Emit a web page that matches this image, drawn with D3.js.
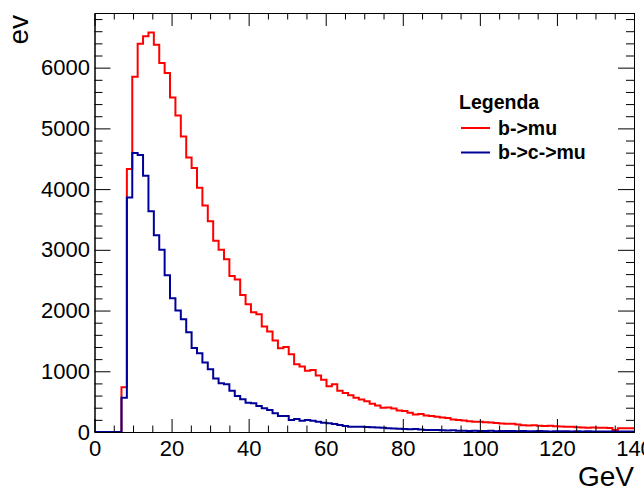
<!DOCTYPE html>
<html>
<head>
<meta charset="utf-8">
<script src="https://cdn.jsdelivr.net/npm/d3@7"></script>
<style>
  body { margin: 0; background: #fff; }
  text { font-family: "Liberation Sans", Arial, Helvetica, sans-serif; }
</style>
</head>
<body>
<div id="plot"></div>
<script>
// histogram binning (0 - 140 GeV, 100 bins)
var nbins = 100, xmin = 0, xmax = 140

// bin contents
var b_mu = [0, 0, 0, 0, 0, 737, 4330, 5850, 6395, 6516,
            6577, 6379, 6077, 5912, 5510, 5214, 4868, 4520, 4346, 4022,
            3730, 3470, 3150, 3000, 2846, 2571, 2510, 2258, 2104, 1973,
            1940, 1736, 1654, 1505, 1379, 1401, 1281, 1116, 1077, 1008,
            1022, 930, 862, 752, 788, 678, 643, 605, 565, 535,
            505, 465, 435, 400, 405, 385, 355, 345, 315, 290,
            295, 270, 265, 250, 240, 230, 205, 198, 190, 175,
            170, 168, 160, 155, 150, 140, 135, 135, 125, 110,
            108, 112, 104, 100, 102, 96, 90, 88, 86, 78,
            74, 72, 76, 70, 68, 66, 35, 60, 60, 62]

var b_c_mu = [0, 0, 0, 0, 0, 566, 3862, 4593, 4560, 4220,
              3637, 3242, 3000, 2583, 2204, 2000, 1857, 1643, 1385, 1297,
              1143, 1033, 879, 803, 786, 681, 593, 539, 483, 473,
              429, 390, 363, 308, 264, 264, 198, 214, 187, 198,
              187, 170, 154, 143, 132, 115, 99, 88, 88, 85,
              82, 77, 75, 72, 60, 58, 55, 50, 45, 50,
              40, 35, 33, 33, 30, 25, 28, 22, 20, 18,
              22, 15, 18, 20, 14, 16, 18, 15, 12, 16,
              14, 12, 15, 13, 10, 12, 14, 11, 10, 12,
              9, 11, 10, 8, 10, 9, 8, 10, 7, 9]

var series_names = ["b->mu", "b->c->mu"]
var series_colors = ["#ff0000", "#000099"]
var x_ticks = [0, 20, 40, 60, 80, 100, 120, 140]
var y_ticks = [0, 1000, 2000, 3000, 4000, 5000, 6000]

// set the dimensions and margins of the graph
var margin = {top: 13, right: 10, bottom: 56, left: 94.5},
    width = 644 - margin.left - margin.right,
    height = 488 - margin.top - margin.bottom

var svg = d3.select("#plot")
    .append("svg")
    .attr("width", 644)
    .attr("height", 488)
    .append("g")
    .attr("transform", "translate(" + margin.left + "," + margin.top + ")")

var scale_x = d3.scaleLinear().domain([xmin, xmax]).range([0, width])
var scale_y = d3.scaleLinear().domain([0, 6900]).range([height, 0])

// step outline of one histogram
var bw = (xmax - xmin) / nbins
function hist_points(vals) {
    var pts = vals.map(function(v, i) { return [xmin + i * bw, v] })
    pts.push([xmax, vals[vals.length - 1]])
    return pts
}
var line = d3.line()
    .x(d => scale_x(d[0]))
    .y(d => scale_y(d[1]))
    .curve(d3.curveStepAfter)

svg.append("clipPath").attr("id", "frame")
    .append("rect").attr("width", width).attr("height", height)

var hists = [b_mu, b_c_mu]
hists.forEach(function(vals, k) {
    svg.append("path")
        .attr("d", line(hist_points(vals)))
        .attr("clip-path", "url(#frame)")
        .attr("fill", "none")
        .attr("stroke", series_colors[k])
        .attr("stroke-width", 2)
})

// axes, ticks pointing inwards on all four sides
var x_minor = d3.range(xmin, xmax + 1, 5).filter(d => d % 20 != 0)
var y_minor = d3.range(0, 6900, 200).filter(d => d % 1000 != 0)
var fmt = d3.format("d")

function style_axis(g) {
    g.selectAll("path").attr("stroke", "#000")
    g.selectAll("line").attr("stroke", "#000")
    g.selectAll("text").attr("fill", "#000").style("font-size", "22px")
}

svg.append("g").attr("transform", "translate(0," + height + ")")
    .call(d3.axisBottom(scale_x).tickValues(x_minor).tickSize(-6.5).tickFormat("").tickSizeOuter(0))
    .call(style_axis)
svg.append("g").attr("transform", "translate(0," + height + ")")
    .call(d3.axisBottom(scale_x).tickValues(x_ticks).tickSize(-13).tickPadding(8).tickFormat(fmt).tickSizeOuter(0))
    .call(style_axis)
svg.append("g")
    .call(d3.axisTop(scale_x).tickValues(x_minor).tickSize(-6.5).tickFormat("").tickSizeOuter(0))
    .call(style_axis)
svg.append("g")
    .call(d3.axisTop(scale_x).tickValues(x_ticks).tickSize(-13).tickFormat("").tickSizeOuter(0))
    .call(style_axis)

svg.append("g")
    .call(d3.axisLeft(scale_y).tickValues(y_minor).tickSize(-8).tickFormat("").tickSizeOuter(0))
    .call(style_axis)
svg.append("g")
    .call(d3.axisLeft(scale_y).tickValues(y_ticks).tickSize(-16).tickPadding(4.5).tickFormat(fmt).tickSizeOuter(0))
    .call(style_axis)
svg.append("g").attr("transform", "translate(" + width + ",0)")
    .call(d3.axisRight(scale_y).tickValues(y_minor).tickSize(-8).tickFormat("").tickSizeOuter(0))
    .call(style_axis)
svg.append("g").attr("transform", "translate(" + width + ",0)")
    .call(d3.axisRight(scale_y).tickValues(y_ticks).tickSize(-16).tickFormat("").tickSizeOuter(0))
    .call(style_axis)

// axis titles
svg.append("text")
    .attr("x", width)
    .attr("y", height + 54)
    .attr("text-anchor", "end")
    .style("font-size", "28px")
    .text("GeV")

svg.append("text")
    .attr("transform", "translate(" + (28 - margin.left) + ",2) rotate(-90)")
    .attr("text-anchor", "end")
    .style("font-size", "28px")
    .text("ev")

// legend
var leg = svg.append("g").attr("transform", "translate(" + (459 - margin.left) + "," + (109 - margin.top) + ")")
leg.append("text")
    .style("font-size", "19.5px")
    .style("font-weight", "bold")
    .text("Legenda")

series_names.forEach(function(name, k) {
    var yy = 19 + k * 24.5
    leg.append("line")
        .attr("x1", 2).attr("x2", 31)
        .attr("y1", yy).attr("y2", yy)
        .attr("stroke", series_colors[k])
        .attr("stroke-width", 2)
    leg.append("text")
        .attr("x", 39)
        .attr("y", yy + 6.5)
        .style("font-size", "19.5px")
        .style("font-weight", "bold")
        .text(name)
})
</script>
</body>
</html>
